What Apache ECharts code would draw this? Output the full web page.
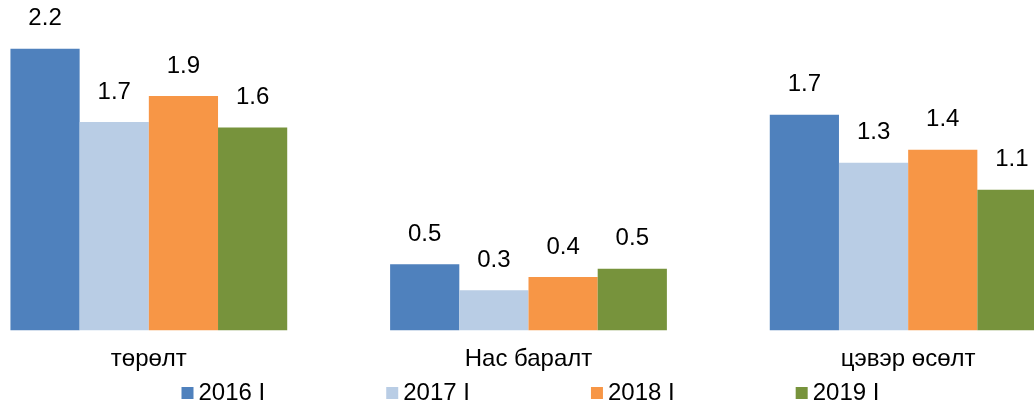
<!DOCTYPE html>
<html>
<head>
<meta charset="utf-8">
<script src="https://cdn.jsdelivr.net/npm/echarts@6/dist/echarts.min.js"></script>
<style>
  html, body { margin: 0; padding: 0; background: #fff; overflow: hidden; width: 1034px; height: 401px; position: relative; }
  #chart { position: absolute; left: -41.5px; top: 0; width: 1139.4px; height: 401px; }
</style>
</head>
<body>
<div id="chart"></div>
<script>
const categories = ['төрөлт', 'Нас баралт', 'цэвэр өсөлт']
const seriesNames = ['2016 I', '2017 I', '2018 I', '2019 I']
const v2016 = [2.24, 0.525, 1.714]
const v2017 = [1.656, 0.318, 1.332]
const v2018 = [1.863, 0.424, 1.436]
const v2019 = [1.613, 0.49, 1.117]

const colors = ['#4f81bd', '#b9cde5', '#f79646', '#77933c']
const font = '"Liberation Sans", Arial, sans-serif'

const chart = echarts.init(document.getElementById('chart'))
const mk = (name, data, i) => ({
  name, type: 'bar', data,
  barGap: '0%', barCategoryGap: '27.1%',
  itemStyle: { color: colors[i] },
  label: {
    show: true, position: 'top', distance: 18,
    color: '#000', fontSize: 24, fontFamily: font,
    formatter: p => p.value.toFixed(1)
  }
})

chart.setOption({
  animation: false,
  grid: { left: 0, right: 0, top: 16, bottom: 70.7, containLabel: false },
  legend: {
    data: seriesNames, top: 376, left: 217.5,
    itemWidth: 12, itemHeight: 12, itemGap: 121, icon: 'rect',
    textStyle: { color: '#000', fontSize: 24, fontFamily: font }
  },
  xAxis: {
    type: 'category', data: categories,
    axisLine: { show: false }, axisTick: { show: false },
    axisLabel: { color: '#000', fontSize: 24, fontFamily: font, margin: 17 }
  },
  yAxis: { type: 'value', min: 0, max: 2.5, show: false, splitLine: { show: false } },
  series: [mk(seriesNames[0], v2016, 0), mk(seriesNames[1], v2017, 1), mk(seriesNames[2], v2018, 2), mk(seriesNames[3], v2019, 3)]
})
</script>
</body>
</html>
